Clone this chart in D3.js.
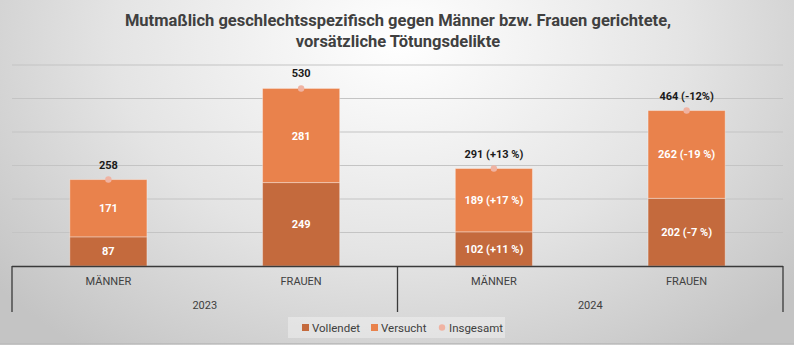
<!DOCTYPE html>
<html><head><meta charset="utf-8">
<script src="https://cdn.jsdelivr.net/npm/d3@7"></script>
<style>
html,body{margin:0;padding:0;overflow:hidden;}
svg{display:block;font-family:Roboto,"Liberation Sans",sans-serif;}
</style></head>
<body>
<svg id="c" width="794" height="345"></svg>
<script>
const titleLines = ["Mutmaßlich geschlechtsspezifisch gegen Männer bzw. Frauen gerichtete,", "vorsätzliche Tötungsdelikte"];
const years = ["2023", "2024"];
const categories = ["MÄNNER", "FRAUEN", "MÄNNER", "FRAUEN"];
const categoryYears = ["2023", "2023", "2024", "2024"];
const vollendet = [87, 249, 102, 202];
const versucht = [171, 281, 189, 262];
const insgesamt = [258, 530, 291, 464];
const vollendetLabels = ["87", "249", "102 (+11 %)", "202 (-7 %)"];
const versuchtLabels = ["171", "281", "189 (+17 %)", "262 (-19 %)"];
const insgesamtLabels = ["258", "530", "291 (+13 %)", "464 (-12%)"];
const yTicks = [0, 100, 200, 300, 400, 500, 600];
const legendNames = ["Vollendet", "Versucht", "Insgesamt"];

(function () {
const colors = {vollendet: "#c46a3d", versucht: "#e9824c", total: "#f0b3a2"};
const svg = d3.select("#c");
const W = 794, H = 345;
const pLeft = 12, pRight = 783, pTop = 65, pBottom = 266;

// background
const defs = svg.append("defs");
const rg = defs.append("radialGradient").attr("id", "bg")
  .attr("gradientUnits", "userSpaceOnUse").attr("cx", 400).attr("cy", 40).attr("r", 520)
  .attr("gradientTransform", "translate(400,40) scale(1,0.75) translate(-400,-40)");
rg.append("stop").attr("offset", "0").attr("stop-color", "#ffffff");
rg.append("stop").attr("offset", "0.55").attr("stop-color", "#e4e4e4");
rg.append("stop").attr("offset", "1").attr("stop-color", "#c4c4c4");
svg.append("rect").attr("width", W).attr("height", H).attr("fill", "url(#bg)");
svg.append("line").attr("x1", 0).attr("x2", W).attr("y1", 343.5).attr("y2", 343.5).attr("stroke", "#bdbdbd").attr("stroke-width", 1);

// title
svg.append("g").selectAll("text").data(titleLines).join("text")
  .attr("x", 398).attr("y", (d, i) => 25.5 + i * 21.5)
  .attr("text-anchor", "middle").attr("font-size", 16.5).attr("font-weight", 700)
  .attr("fill", "#404040").text(d => d);

const x = d3.scaleBand().domain(d3.range(categories.length)).range([pLeft, pRight]).paddingInner(0.6).paddingOuter(0.3);
const y = d3.scaleLinear().domain([0, 600]).range([pBottom, pTop]);

// grid
svg.append("g").selectAll("line").data(yTicks.slice(1)).join("line")
  .attr("x1", pLeft).attr("x2", pRight).attr("y1", d => y(d)).attr("y2", d => y(d))
  .attr("stroke", "#c4c4c4").attr("stroke-width", 1.2);

// bars
const g = svg.append("g");
categories.forEach((c, i) => {
  const bx = x(i), bw = x.bandwidth();
  g.append("rect").attr("x", bx).attr("y", y(vollendet[i])).attr("width", bw)
    .attr("height", y(0) - y(vollendet[i])).attr("fill", colors.vollendet)
    .attr("stroke", "rgba(255,255,255,0.35)").attr("stroke-width", 1);
  g.append("rect").attr("x", bx).attr("y", y(vollendet[i] + versucht[i])).attr("width", bw)
    .attr("height", y(vollendet[i]) - y(vollendet[i] + versucht[i])).attr("fill", colors.versucht)
    .attr("stroke", "rgba(255,255,255,0.35)").attr("stroke-width", 1);
  const cx = bx + bw / 2;
  g.append("text").attr("x", cx).attr("y", (y(0) + y(vollendet[i])) / 2 + 4)
    .attr("text-anchor", "middle").attr("font-size", 11).attr("font-weight", 700)
    .attr("fill", "#ffffff").text(vollendetLabels[i]);
  g.append("text").attr("x", cx).attr("y", (y(vollendet[i]) + y(vollendet[i] + versucht[i])) / 2 + 4)
    .attr("text-anchor", "middle").attr("font-size", 11).attr("font-weight", 700)
    .attr("fill", "#ffffff").text(versuchtLabels[i]);
  g.append("circle").attr("cx", cx).attr("cy", y(insgesamt[i])).attr("r", 3.2).attr("fill", colors.total);
  g.append("text").attr("x", cx).attr("y", y(insgesamt[i]) - 11)
    .attr("text-anchor", "middle").attr("font-size", 11).attr("font-weight", 700)
    .attr("fill", "#1a1a1a").text(insgesamtLabels[i]);
});

// axis
const ax = svg.append("g");
ax.append("line").attr("x1", pLeft).attr("x2", pRight).attr("y1", pBottom + 0.5).attr("y2", pBottom + 0.5)
  .attr("stroke", "#3a3a3a").attr("stroke-width", 1.3);
const mid = (pLeft + pRight) / 2;
[pLeft, mid, pRight].forEach(v => {
  ax.append("line").attr("x1", v).attr("x2", v).attr("y1", pBottom).attr("y2", 312)
    .attr("stroke", "#3a3a3a").attr("stroke-width", 1.3);
});
ax.selectAll("text.cat").data(categories).join("text").attr("class", "cat")
  .attr("x", (d, i) => x(i) + x.bandwidth() / 2).attr("y", 285)
  .attr("text-anchor", "middle").attr("font-size", 11).attr("fill", "#404040").text(d => d);
ax.selectAll("text.yr").data(years).join("text").attr("class", "yr")
  .attr("x", (d, i) => pLeft + (pRight - pLeft) / 4 * (1 + 2 * i)).attr("y", 309)
  .attr("text-anchor", "middle").attr("font-size", 11).attr("fill", "#404040").text(d => d);

// legend
const lg = svg.append("g");
lg.append("rect").attr("x", 288).attr("y", 317).attr("width", 217).attr("height", 21)
  .attr("fill", "rgba(255,255,255,0.35)");
const lx = [302, 371, 439];
lg.append("rect").attr("x", lx[0]).attr("y", 324).attr("width", 7).attr("height", 7).attr("fill", colors.vollendet);
lg.append("rect").attr("x", lx[1]).attr("y", 324).attr("width", 7).attr("height", 7).attr("fill", colors.versucht);
lg.append("circle").attr("cx", lx[2] + 3).attr("cy", 327.5).attr("r", 3.2).attr("fill", colors.total);
lg.selectAll("text").data(legendNames).join("text")
  .attr("x", (d, i) => lx[i] + 10).attr("y", 331.5).attr("font-size", 11.5).attr("fill", "#404040").text(d => d);
})();
</script>
</body></html>
